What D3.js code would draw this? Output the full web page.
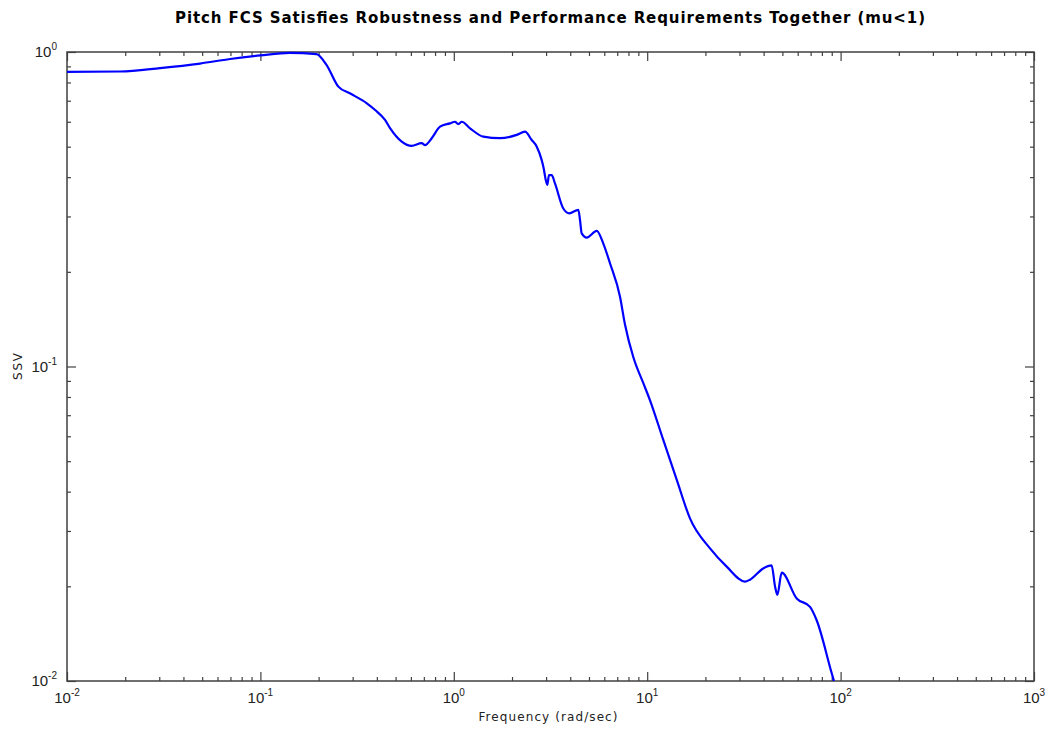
<!DOCTYPE html>
<html>
<head>
<meta charset="utf-8">
<script src="https://cdn.jsdelivr.net/npm/d3@7"></script>
<style>
  body { margin: 0; background: #fff; }
  text { font-family: "Liberation Sans", Arial, sans-serif; }
  .wide { font-family: "DejaVu Sans", sans-serif; }
  .axis path, .axis line { stroke: #404040; }
</style>
</head>
<body>
<div id="chart"></div>
<script>
// frequency (rad/sec) and structured singular value
const freq = [0.01, 0.0188, 0.0303, 0.0488, 0.0697, 0.1, 0.142, 0.195, 0.220, 0.253,
  0.290, 0.355, 0.392, 0.441, 0.468, 0.538, 0.605, 0.682, 0.710, 0.769,
  0.849, 0.955, 1.014, 1.055, 1.099, 1.213, 1.421, 1.733, 2.115, 2.334,
  2.528, 2.685, 2.846, 2.904, 3.042, 3.107, 3.207, 3.336, 3.683, 3.955,
  4.404, 4.494, 4.586, 4.868, 5.483, 5.930, 6.42, 7.23, 7.676, 8.48,
  9.55, 10.33, 12.11, 14.22, 16.64, 21.13, 25.77, 32.05, 34.0, 39.8,
  44.0, 45.8, 47.1, 49.6, 59.3, 69.5, 75.2, 89.9, 92.4];
const ssv = [0.864, 0.867, 0.889, 0.919, 0.950, 0.975, 0.993, 0.985, 0.909, 0.776,
  0.739, 0.687, 0.654, 0.608, 0.573, 0.519, 0.503, 0.513, 0.506, 0.532,
  0.579, 0.593, 0.600, 0.590, 0.600, 0.572, 0.538, 0.532, 0.545, 0.558,
  0.525, 0.500, 0.454, 0.432, 0.378, 0.406, 0.406, 0.382, 0.318, 0.307,
  0.315, 0.292, 0.265, 0.257, 0.270, 0.246, 0.213, 0.167, 0.136, 0.107,
  0.0885, 0.0782, 0.0584, 0.0436, 0.0329, 0.0264, 0.0231, 0.0207, 0.0210, 0.0228,
  0.0233, 0.0200, 0.0188, 0.0221, 0.0183, 0.0172, 0.0156, 0.0106, 0.0100];
const xDecades = [-2, -1, 0, 1, 2, 3];
const yDecades = [-2, -1, 0];

const W = 1049, H = 729;
const margin = {top: 52, right: 15, bottom: 48, left: 67};
const width = W - margin.left - margin.right;
const height = H - margin.top - margin.bottom;

const svg = d3.select("#chart").append("svg")
  .attr("width", W).attr("height", H);

const g = svg.append("g")
  .attr("transform", `translate(${margin.left},${margin.top})`);

const x = d3.scaleLog().domain([1e-2, 1e3]).range([0, width]);
const y = d3.scaleLog().domain([1e-2, 1e0]).range([height, 0]);

const minorOf = decs => {
  let out = [];
  decs.slice(0, -1).forEach(d => {
    for (let k = 2; k <= 9; k++) out.push(k * Math.pow(10, d));
  });
  return out;
};
const xMajor = xDecades.map(d => Math.pow(10, d));
const yMajor = yDecades.map(d => Math.pow(10, d));
const xMinor = minorOf(xDecades);
const yMinor = minorOf(yDecades);

// box
g.append("rect")
  .attr("width", width).attr("height", height)
  .attr("fill", "none").attr("stroke", "#404040").attr("stroke-width", 1.5);

// ticks on all four sides, pointing inwards
function ticks(axisFn, scale, vals, size, transform) {
  g.append("g").attr("class", "axis")
    .attr("transform", transform)
    .call(axisFn(scale).tickValues(vals).tickSize(size).tickFormat(""))
    .call(s => s.select(".domain").remove())
    .selectAll("line").attr("stroke-width", 1.2);
}
ticks(d3.axisBottom, x, xMajor, -9, `translate(0,${height})`);
ticks(d3.axisBottom, x, xMinor, -4, `translate(0,${height})`);
ticks(d3.axisTop, x, xMajor, -9, "translate(0,0)");
ticks(d3.axisTop, x, xMinor, -4, "translate(0,0)");
ticks(d3.axisLeft, y, yMajor, -9, "translate(0,0)");
ticks(d3.axisLeft, y, yMinor, -4, "translate(0,0)");
ticks(d3.axisRight, y, yMajor, -9, `translate(${width},0)`);
ticks(d3.axisRight, y, yMinor, -4, `translate(${width},0)`);

// tick labels as 10^n
const xl = g.append("g").selectAll("text").data(xDecades).enter().append("text")
  .attr("x", d => x(Math.pow(10, d)))
  .attr("y", height + 22)
  .attr("text-anchor", "middle")
  .attr("font-size", 15).attr("fill", "#222");
xl.append("tspan").text("10");
xl.append("tspan").attr("dy", -7).attr("font-size", 10).text(d => d);

const yl = g.append("g").selectAll("text").data(yDecades).enter().append("text")
  .attr("x", -10)
  .attr("y", d => y(Math.pow(10, d)) + 5)
  .attr("text-anchor", "end")
  .attr("font-size", 15).attr("fill", "#222");
yl.append("tspan").text("10");
yl.append("tspan").attr("dy", -7).attr("font-size", 10).text(d => d);

// curve
const line = d3.line()
  .x((d, i) => x(freq[i]))
  .y((d, i) => y(ssv[i]))
  .curve(d3.curveMonotoneX);

g.append("path")
  .datum(ssv)
  .attr("d", line)
  .attr("fill", "none")
  .attr("stroke", "#0000ff")
  .attr("stroke-width", 2.2)
  .attr("stroke-linejoin", "round");

// titles
svg.append("text")
  .attr("class", "wide")
  .attr("x", 550)
  .attr("y", 23)
  .attr("text-anchor", "middle")
  .attr("font-size", 15).attr("font-weight", "bold")
  .attr("textLength", 750).attr("lengthAdjust", "spacing")
  .text("Pitch FCS Satisfies Robustness and Performance Requirements Together (mu<1)");

svg.append("text")
  .attr("class", "wide")
  .attr("x", 548)
  .attr("y", 721)
  .attr("text-anchor", "middle")
  .attr("font-size", 12).attr("fill", "#222")
  .attr("textLength", 139).attr("lengthAdjust", "spacing")
  .text("Frequency (rad/sec)");

svg.append("text")
  .attr("class", "wide")
  .attr("transform", `translate(22,${margin.top + height / 2}) rotate(-90)`)
  .attr("text-anchor", "middle")
  .attr("font-size", 12).attr("fill", "#222")
  .attr("textLength", 27).attr("lengthAdjust", "spacing")
  .text("SSV");
</script>
</body>
</html>
